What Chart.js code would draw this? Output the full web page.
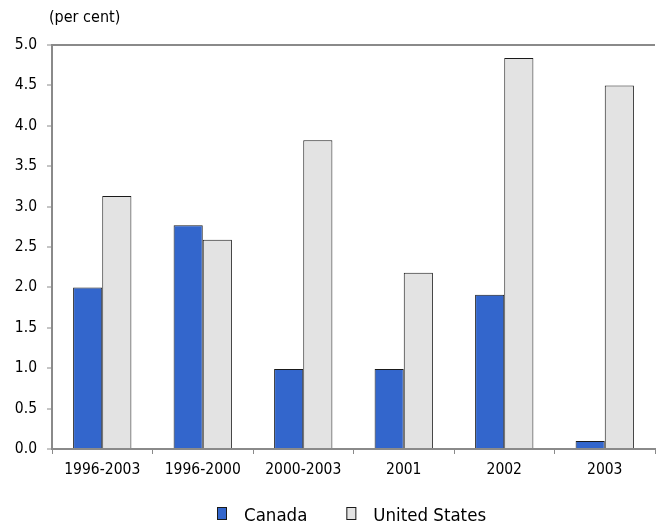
<!DOCTYPE html>
<html>
<head>
<meta charset="utf-8">
<script src="https://cdn.jsdelivr.net/npm/chart.js@4/dist/chart.umd.min.js"></script>
<style>
  html, body { margin: 0; padding: 0; background: #fff; }
  #wrap { width: 656px; height: 527px; position: relative; }
</style>
</head>
<body>
<div id="wrap"><canvas id="chart"></canvas></div>
<script>
// Growth by period, per cent
const periods = ['1996-2003', '1996-2000', '2000-2003', '2001', '2002', '2003'];
const canada = [2.0, 2.77, 0.99, 0.99, 1.91, 0.1];
const unitedStates = [3.13, 2.59, 3.82, 2.18, 4.84, 4.5];
const yTicks = [0, 0.5, 1, 1.5, 2, 2.5, 3, 3.5, 4, 4.5, 5];

const FONT = "'DejaVu Sans Condensed', 'DejaVu Sans', sans-serif";
const AXIS = '#8a8a8a';

// Unit label above the value axis
const unitLabel = {
  id: 'unitLabel',
  afterDraw(chart) {
    const { ctx, chartArea } = chart;
    ctx.save();
    ctx.font = '16px ' + FONT;
    ctx.fillStyle = '#000';
    ctx.textBaseline = 'middle';
    ctx.textAlign = 'left';
    ctx.fillText('(per cent)', chartArea.left - 3, 18);
    ctx.restore();
  }
};

// Legend row under the category labels: swatch, gap, name
const bottomLegend = {
  id: 'bottomLegend',
  afterDraw(chart) {
    const { ctx, chartArea } = chart;
    const boxW = 10, boxH = 13, gap = 17, spacing = 39;
    ctx.save();
    ctx.font = '18.5px ' + FONT;
    const items = chart.data.datasets.map(ds => ({
      text: ds.label,
      fill: ds.backgroundColor,
      width: boxW + gap + ctx.measureText(ds.label).width
    }));
    const total = items.reduce((s, it) => s + it.width, 0) + spacing * (items.length - 1);
    let x = Math.round((chartArea.left + chartArea.right) / 2 - 2 - total / 2);
    const boxTop = chart.height - 20;
    const baseline = chart.height - 6;
    items.forEach(it => {
      ctx.fillStyle = it.fill;
      ctx.fillRect(x, boxTop, boxW, boxH);
      ctx.strokeStyle = '#1a1a1a';
      ctx.lineWidth = 1;
      ctx.strokeRect(x + 0.5, boxTop + 0.5, boxW - 1, boxH - 1);
      ctx.fillStyle = '#000';
      ctx.textBaseline = 'alphabetic';
      ctx.textAlign = 'left';
      ctx.fillText(it.text, x + boxW + gap, baseline);
      x += it.width + spacing;
    });
    ctx.restore();
  }
};

new Chart(document.getElementById('chart'), {
  type: 'bar',
  data: {
    labels: periods,
    datasets: [
      {
        label: 'Canada',
        data: canada,
        backgroundColor: '#3366cc',
        borderColor: '#1a1a1a',
        borderWidth: 1,
        borderSkipped: 'bottom'
      },
      {
        label: 'United States',
        data: unitedStates,
        backgroundColor: '#e3e3e3',
        borderColor: '#1a1a1a',
        borderWidth: 1,
        borderSkipped: 'bottom'
      }
    ]
  },
  options: {
    responsive: true,
    maintainAspectRatio: false,
    animation: false,
    layout: { padding: { top: 45, left: 0, right: 1, bottom: 44 } },
    datasets: { bar: { categoryPercentage: 0.58, barPercentage: 1.0 } },
    scales: {
      x: {
        grid: {
          offset: true,
          drawOnChartArea: false,
          tickLength: 5,
          tickColor: AXIS,
          tickWidth: 1
        },
        border: { color: AXIS, width: 2 },
        ticks: {
          color: '#000',
          font: { family: FONT, size: 15.5 },
          padding: 7,
          maxRotation: 0
        },
        afterFit(scale) { scale.height = 34; }
      },
      y: {
        min: 0,
        max: 5,
        afterBuildTicks(scale) { scale.ticks = yTicks.map(v => ({ value: v })); },
        grid: {
          color: ctx => (ctx.tick && ctx.tick.value === 5 ? AXIS : 'rgba(0,0,0,0)'),
          lineWidth: 2,
          tickColor: AXIS,
          tickWidth: 1,
          tickLength: 5
        },
        border: { color: AXIS, width: 2 },
        ticks: {
          color: '#000',
          font: { family: FONT, size: 15.5 },
          padding: 10,
          callback: v => Number(v).toFixed(1)
        },
        afterFit(scale) { scale.width = 52; }
      }
    },
    plugins: {
      tooltip: { enabled: false },
      legend: { display: false }
    }
  },
  plugins: [unitLabel, bottomLegend]
});
</script>
</body>
</html>
